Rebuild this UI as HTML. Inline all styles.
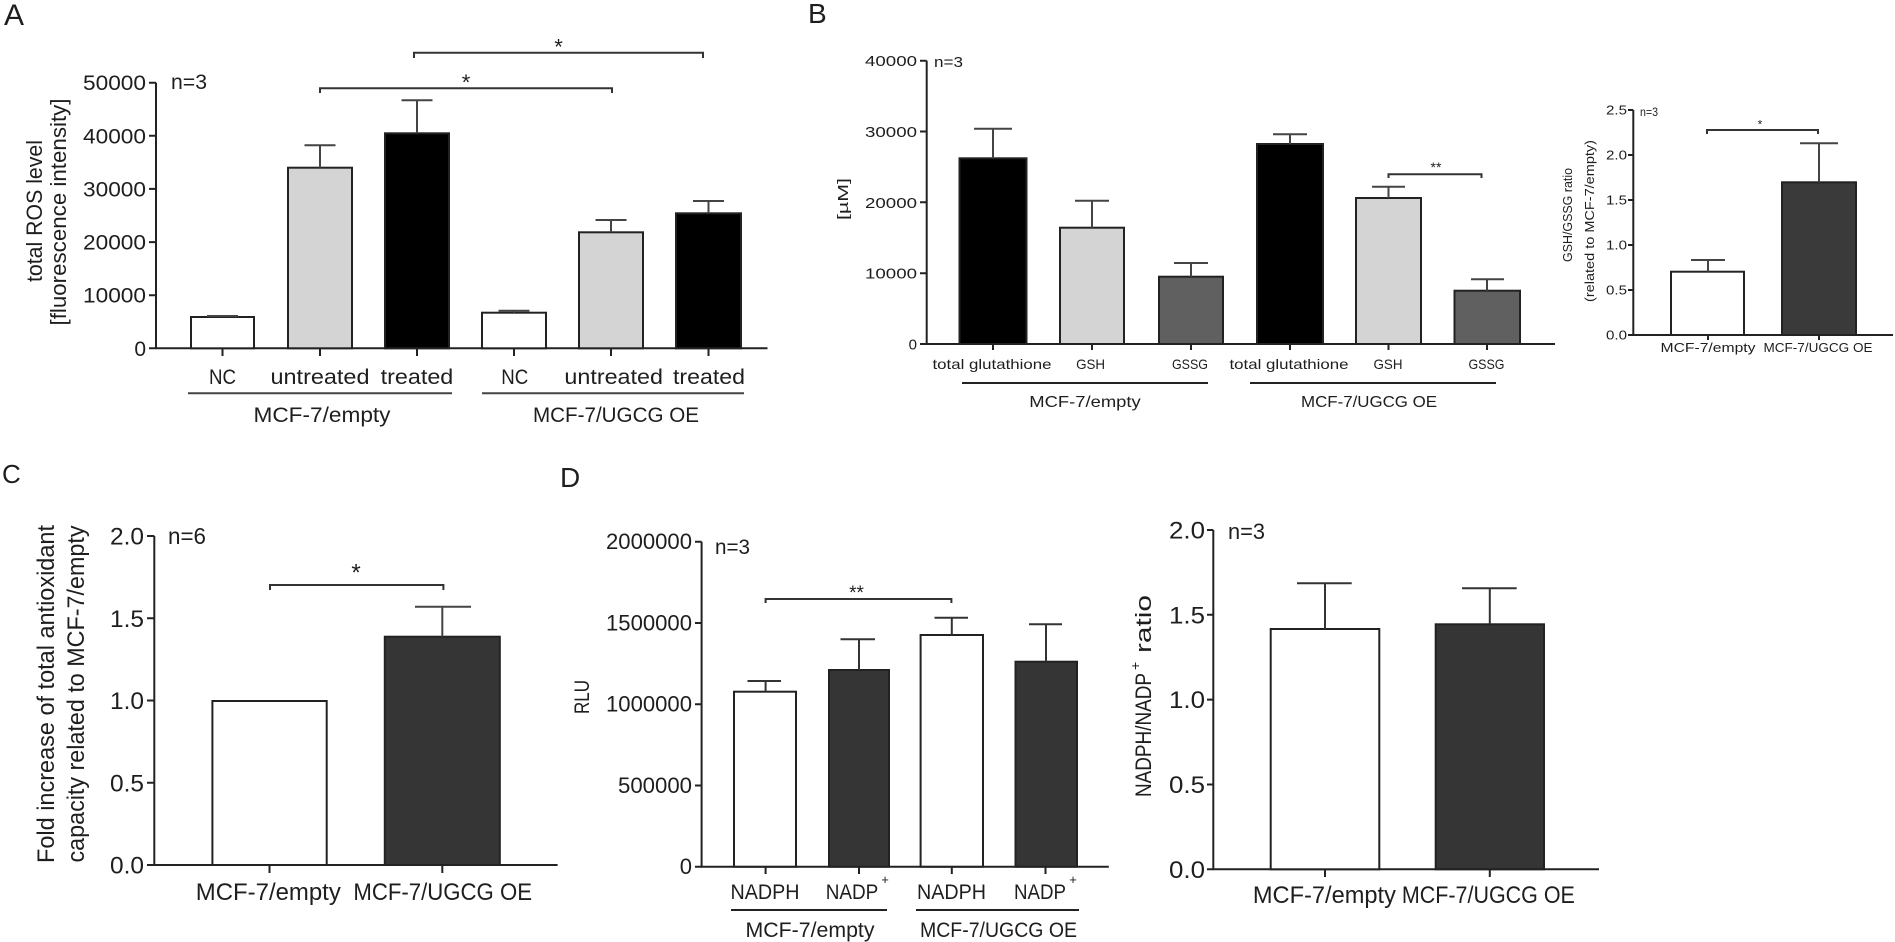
<!DOCTYPE html>
<html><head><meta charset="utf-8"><style>
html,body{margin:0;padding:0;background:#fff;}
svg{display:block;}
text{font-family:"Liberation Sans",Arial,sans-serif;fill:#1e1e1e;}
</style></head><body>
<svg width="1895" height="942" viewBox="0 0 1895 942" xmlns="http://www.w3.org/2000/svg">
<rect width="1895" height="942" fill="#fff"/>

<!-- ================= Panel A ================= -->
<text x="4" y="25" font-size="30">A</text>
<g stroke="#222" stroke-width="2" fill="none">
<path d="M156 82.7V348.3H767.5"/>
<path d="M149 82.7H156M149 135.8H156M149 188.9H156M149 242.1H156M149 295.2H156M149 348.3H156M222.5 348.3V356M320 348.3V356M417 348.3V356M514 348.3V356M611 348.3V356M708.5 348.3V356"/>
</g>
<g font-size="21" text-anchor="end">
<text x="146" y="90.2" textLength="63" lengthAdjust="spacingAndGlyphs">50000</text>
<text x="146" y="143.3" textLength="63" lengthAdjust="spacingAndGlyphs">40000</text>
<text x="146" y="196.4" textLength="63" lengthAdjust="spacingAndGlyphs">30000</text>
<text x="146" y="249.6" textLength="63" lengthAdjust="spacingAndGlyphs">20000</text>
<text x="146" y="302.7" textLength="63" lengthAdjust="spacingAndGlyphs">10000</text>
<text x="146" y="355.8">0</text>
</g>
<text x="171" y="89" font-size="21" textLength="36" lengthAdjust="spacingAndGlyphs">n=3</text>
<text transform="translate(42,211) rotate(-90)" text-anchor="middle" font-size="22" textLength="142" lengthAdjust="spacingAndGlyphs">total ROS level</text>
<text transform="translate(66,212) rotate(-90)" text-anchor="middle" font-size="22" textLength="227" lengthAdjust="spacingAndGlyphs">[fluorescence intensity]</text>
<g stroke="#222" stroke-width="2">
<rect x="191" y="317" width="63" height="31.3" fill="#fff"/>
<rect x="288" y="167.7" width="64" height="180.6" fill="#d4d4d4"/>
<rect x="385" y="133.3" width="64" height="215" fill="#000"/>
<rect x="482" y="312.7" width="64" height="35.6" fill="#fff"/>
<rect x="579" y="232.3" width="64" height="116" fill="#d4d4d4"/>
<rect x="676" y="213.3" width="65" height="135" fill="#000"/>
</g>
<path d="M207 316H238M320 167.7V145.3M304.5 145.3H335.5M417 133.3V100.3M401.5 100.3H432.5M514 312.7V310.7M498.5 310.7H529.5M611 232.3V220M595.5 220H626.5M708.5 213.3V201M693 201H724" stroke="#444" stroke-width="2" fill="none"/>
<g font-size="21" text-anchor="middle">
<text x="222.5" y="384" textLength="27" lengthAdjust="spacingAndGlyphs">NC</text>
<text x="320" y="384" textLength="99" lengthAdjust="spacingAndGlyphs">untreated</text>
<text x="417" y="384" textLength="72.6" lengthAdjust="spacingAndGlyphs">treated</text>
<text x="514.8" y="384" textLength="27" lengthAdjust="spacingAndGlyphs">NC</text>
<text x="613.7" y="384" textLength="98.5" lengthAdjust="spacingAndGlyphs">untreated</text>
<text x="709" y="384" textLength="72" lengthAdjust="spacingAndGlyphs">treated</text>
<text x="322" y="422" textLength="137" lengthAdjust="spacingAndGlyphs">MCF-7/empty</text>
<text x="616" y="422" textLength="166" lengthAdjust="spacingAndGlyphs">MCF-7/UGCG OE</text>
</g>
<path d="M188 393.3H452M482 393.3H744" stroke="#444" stroke-width="2"/>
<path d="M320 93V88.3H612V93M414 58V52.7H703V58" fill="none" stroke="#333" stroke-width="2"/>
<text x="466" y="90" font-size="22" text-anchor="middle">*</text>
<text x="558.5" y="54.5" font-size="22" text-anchor="middle">*</text>

<!-- ================= Panel B ================= -->
<text x="808" y="23" font-size="28">B</text>
<g stroke="#222" stroke-width="2" fill="none">
<path d="M926.7 60.7V344H1555"/>
<path d="M920 60.7H926.7M920 131.5H926.7M920 202.3H926.7M920 273.2H926.7M920 344H926.7M993 344V350M1092 344V350M1191 344V350M1290 344V350M1388.5 344V350M1487 344V350"/>
</g>
<g font-size="15" text-anchor="end">
<text x="917" y="66.2" textLength="52" lengthAdjust="spacingAndGlyphs">40000</text>
<text x="917" y="137" textLength="52" lengthAdjust="spacingAndGlyphs">30000</text>
<text x="917" y="207.8" textLength="52" lengthAdjust="spacingAndGlyphs">20000</text>
<text x="917" y="278.7" textLength="52" lengthAdjust="spacingAndGlyphs">10000</text>
<text x="917" y="349.5">0</text>
</g>
<text x="934" y="67" font-size="15" textLength="29" lengthAdjust="spacingAndGlyphs">n=3</text>
<text transform="translate(848,199) rotate(-90)" text-anchor="middle" font-size="15" textLength="42" lengthAdjust="spacingAndGlyphs">[µM]</text>
<g stroke="#222" stroke-width="2">
<rect x="959.5" y="158.3" width="67" height="185.7" fill="#000"/>
<rect x="1060" y="227.7" width="64" height="116.3" fill="#d4d4d4"/>
<rect x="1159" y="276.7" width="64" height="67.3" fill="#606060"/>
<rect x="1257" y="144" width="66" height="200" fill="#000"/>
<rect x="1356" y="198" width="65" height="146" fill="#d4d4d4"/>
<rect x="1454.5" y="290.7" width="65.5" height="53.3" fill="#606060"/>
</g>
<path d="M993 158.3V128.7M974 128.7H1012M1092 227.7V200.7M1075 200.7H1109M1191 276.7V263M1174 263H1208M1290 144V134.3M1273 134.3H1307M1388.5 198V186.7M1372 186.7H1405M1487 290.7V279.3M1471 279.3H1504" stroke="#444" stroke-width="2" fill="none"/>
<g font-size="14" text-anchor="middle">
<text x="992" y="369" textLength="119" lengthAdjust="spacingAndGlyphs">total glutathione</text>
<text x="1090.6" y="369" textLength="29" lengthAdjust="spacingAndGlyphs">GSH</text>
<text x="1190" y="369" textLength="36" lengthAdjust="spacingAndGlyphs">GSSG</text>
<text x="1289" y="369" textLength="119" lengthAdjust="spacingAndGlyphs">total glutathione</text>
<text x="1388" y="369" textLength="29" lengthAdjust="spacingAndGlyphs">GSH</text>
<text x="1486.5" y="369" textLength="36" lengthAdjust="spacingAndGlyphs">GSSG</text>
</g>
<path d="M962 383H1208M1250 383H1496" stroke="#222" stroke-width="2"/>
<g font-size="16" text-anchor="middle">
<text x="1085" y="407" textLength="111.5" lengthAdjust="spacingAndGlyphs">MCF-7/empty</text>
<text x="1369" y="407" textLength="136" lengthAdjust="spacingAndGlyphs">MCF-7/UGCG OE</text>
</g>
<path d="M1388.5 178V174.3H1481.5V178" fill="none" stroke="#333" stroke-width="2"/>
<text x="1436" y="172" font-size="14" text-anchor="middle">**</text>

<!-- B inset -->
<g stroke="#222" stroke-width="2" fill="none">
<path d="M1633.3 110V335H1893"/>
<path d="M1628 110H1633.3M1628 155H1633.3M1628 200H1633.3M1628 245H1633.3M1628 290H1633.3M1628 335H1633.3M1708 335V340M1819 335V340"/>
</g>
<g font-size="13" text-anchor="end">
<text x="1627" y="114.5" textLength="21" lengthAdjust="spacingAndGlyphs">2.5</text>
<text x="1627" y="159.5" textLength="21" lengthAdjust="spacingAndGlyphs">2.0</text>
<text x="1627" y="204.5" textLength="21" lengthAdjust="spacingAndGlyphs">1.5</text>
<text x="1627" y="249.5" textLength="21" lengthAdjust="spacingAndGlyphs">1.0</text>
<text x="1627" y="294.5" textLength="21" lengthAdjust="spacingAndGlyphs">0.5</text>
<text x="1627" y="339.5" textLength="21" lengthAdjust="spacingAndGlyphs">0.0</text>
</g>
<text x="1640" y="116" font-size="12" textLength="18" lengthAdjust="spacingAndGlyphs">n=3</text>
<text transform="translate(1572,215) rotate(-90)" text-anchor="middle" font-size="13" textLength="94" lengthAdjust="spacingAndGlyphs">GSH/GSSG ratio</text>
<text transform="translate(1594,221) rotate(-90)" text-anchor="middle" font-size="13" textLength="162" lengthAdjust="spacingAndGlyphs">(related to MCF-7/empty)</text>
<g stroke="#222" stroke-width="2">
<rect x="1671" y="271.7" width="73" height="63.3" fill="#fff"/>
<rect x="1782" y="182.3" width="74" height="152.7" fill="#3a3a3a"/>
</g>
<path d="M1708 271.7V260M1691 260H1725M1819 182.3V143.3M1800 143.3H1838" stroke="#444" stroke-width="2" fill="none"/>
<path d="M1707 134V130H1818V134" fill="none" stroke="#333" stroke-width="2"/>
<text x="1760" y="128.7" font-size="12" text-anchor="middle">*</text>
<g font-size="13" text-anchor="middle">
<text x="1708" y="352" textLength="95" lengthAdjust="spacingAndGlyphs">MCF-7/empty</text>
<text x="1818" y="352" textLength="109" lengthAdjust="spacingAndGlyphs">MCF-7/UGCG OE</text>
</g>

<!-- ================= Panel C ================= -->
<text x="2" y="483" font-size="26">C</text>
<g stroke="#222" stroke-width="2" fill="none">
<path d="M154.3 536V865H557.6"/>
<path d="M147 536H154.3M147 618.25H154.3M147 700.5H154.3M147 782.75H154.3M147 865H154.3M269.5 865V873M442.3 865V873"/>
</g>
<g font-size="24" text-anchor="end">
<text x="144" y="544.5" textLength="34" lengthAdjust="spacingAndGlyphs">2.0</text>
<text x="144" y="626.75" textLength="34" lengthAdjust="spacingAndGlyphs">1.5</text>
<text x="144" y="709" textLength="34" lengthAdjust="spacingAndGlyphs">1.0</text>
<text x="144" y="791.25" textLength="34" lengthAdjust="spacingAndGlyphs">0.5</text>
<text x="144" y="873.5" textLength="34" lengthAdjust="spacingAndGlyphs">0.0</text>
</g>
<text x="168" y="544" font-size="23" textLength="38" lengthAdjust="spacingAndGlyphs">n=6</text>
<text transform="translate(54,694) rotate(-90)" text-anchor="middle" font-size="24" textLength="338" lengthAdjust="spacingAndGlyphs">Fold increase of total antioxidant</text>
<text transform="translate(84,694) rotate(-90)" text-anchor="middle" font-size="24" textLength="337" lengthAdjust="spacingAndGlyphs">capacity related to MCF-7/empty</text>
<g stroke="#222" stroke-width="2">
<rect x="212.4" y="701" width="114.3" height="164" fill="#fff"/>
<rect x="384.8" y="636.7" width="115" height="228.3" fill="#353535"/>
</g>
<path d="M442.3 636.7V606.7M415 606.7H471" stroke="#444" stroke-width="2" fill="none"/>
<path d="M270 590V585H443.4V590" fill="none" stroke="#333" stroke-width="2"/>
<text x="356" y="580.7" font-size="24" text-anchor="middle">*</text>
<g font-size="24" text-anchor="middle">
<text x="268.3" y="900" textLength="145" lengthAdjust="spacingAndGlyphs">MCF-7/empty</text>
<text x="442.7" y="900" textLength="178.6" lengthAdjust="spacingAndGlyphs">MCF-7/UGCG OE</text>
</g>

<!-- ================= Panel D left ================= -->
<text x="560" y="487" font-size="28">D</text>
<g stroke="#222" stroke-width="2" fill="none">
<path d="M701.6 541.7V866.7H1108.8"/>
<path d="M695 541.7H701.6M695 622.95H701.6M695 704.2H701.6M695 785.45H701.6M695 866.7H701.6M765.6 866.7V874M859 866.7V874M951.8 866.7V874M1045.5 866.7V874"/>
</g>
<g font-size="22" text-anchor="end">
<text x="692" y="549.2" textLength="86" lengthAdjust="spacingAndGlyphs">2000000</text>
<text x="692" y="630.45" textLength="86" lengthAdjust="spacingAndGlyphs">1500000</text>
<text x="692" y="711.7" textLength="86" lengthAdjust="spacingAndGlyphs">1000000</text>
<text x="692" y="792.95" textLength="74" lengthAdjust="spacingAndGlyphs">500000</text>
<text x="692" y="874.2">0</text>
</g>
<text x="715" y="554" font-size="21" textLength="35" lengthAdjust="spacingAndGlyphs">n=3</text>
<text transform="translate(589,697) rotate(-90)" text-anchor="middle" font-size="21" textLength="34" lengthAdjust="spacingAndGlyphs">RLU</text>
<g stroke="#222" stroke-width="2">
<rect x="734" y="691.7" width="62" height="175" fill="#fff"/>
<rect x="829" y="670" width="60" height="196.7" fill="#353535"/>
<rect x="920.6" y="635" width="62.4" height="231.7" fill="#fff"/>
<rect x="1015.5" y="661.7" width="61.5" height="205" fill="#353535"/>
</g>
<path d="M765.6 691.7V681M747.5 681H781M859 670V639.3M840.5 639.3H875M951.8 635V617.7M934.5 617.7H968M1046 661.7V624.3M1029 624.3H1062" stroke="#333" stroke-width="2" fill="none"/>
<path d="M765.6 603V599H951.4V603" fill="none" stroke="#333" stroke-width="2"/>
<text x="856.5" y="599" font-size="19" text-anchor="middle">**</text>
<g font-size="21" text-anchor="middle">
<text x="765" y="899" textLength="69" lengthAdjust="spacingAndGlyphs">NADPH</text>
<text x="852" y="899" textLength="52.6" lengthAdjust="spacingAndGlyphs">NADP</text>
<text x="951.5" y="899" textLength="69" lengthAdjust="spacingAndGlyphs">NADPH</text>
<text x="1040" y="899" textLength="52" lengthAdjust="spacingAndGlyphs">NADP</text>
<text x="810" y="937" textLength="129" lengthAdjust="spacingAndGlyphs">MCF-7/empty</text>
<text x="998.5" y="937" textLength="157" lengthAdjust="spacingAndGlyphs">MCF-7/UGCG OE</text>
</g>
<text x="885" y="884" font-size="13" text-anchor="middle">+</text>
<text x="1073" y="884" font-size="13" text-anchor="middle">+</text>
<path d="M731 910H887M916 910H1079" stroke="#222" stroke-width="2"/>

<!-- ================= Panel D right ================= -->
<g transform="translate(1151,797) rotate(-90)">
<text x="0" y="0" font-size="22" textLength="124" lengthAdjust="spacingAndGlyphs">NADPH/NADP</text>
<text x="127" y="-11" font-size="14">+</text>
<text x="144" y="0" font-size="22" textLength="58" lengthAdjust="spacingAndGlyphs">ratio</text>
</g>
<g stroke="#222" stroke-width="2" fill="none">
<path d="M1213.3 530V869.3H1599"/>
<path d="M1207 530H1213.3M1207 614.8H1213.3M1207 699.6H1213.3M1207 784.5H1213.3M1207 869.3H1213.3M1325 869.3V877M1489.8 869.3V877"/>
</g>
<g font-size="24" text-anchor="end">
<text x="1205" y="538.5" textLength="36" lengthAdjust="spacingAndGlyphs">2.0</text>
<text x="1205" y="623.3" textLength="36" lengthAdjust="spacingAndGlyphs">1.5</text>
<text x="1205" y="708.1" textLength="36" lengthAdjust="spacingAndGlyphs">1.0</text>
<text x="1205" y="793" textLength="36" lengthAdjust="spacingAndGlyphs">0.5</text>
<text x="1205" y="877.8" textLength="36" lengthAdjust="spacingAndGlyphs">0.0</text>
</g>
<text x="1228" y="539" font-size="22" textLength="37" lengthAdjust="spacingAndGlyphs">n=3</text>
<g stroke="#222" stroke-width="2">
<rect x="1270.7" y="629" width="108.6" height="240.3" fill="#fff"/>
<rect x="1435.7" y="624.3" width="108.3" height="245" fill="#353535"/>
</g>
<path d="M1325 629V583.3M1297 583.3H1351.7M1489.8 624.3V588.3M1462 588.3H1516.7" stroke="#333" stroke-width="2" fill="none"/>
<g font-size="24" text-anchor="middle">
<text x="1324.4" y="903" textLength="143" lengthAdjust="spacingAndGlyphs">MCF-7/empty</text>
<text x="1488.4" y="903" textLength="173" lengthAdjust="spacingAndGlyphs">MCF-7/UGCG OE</text>
</g>
</svg>
</body></html>
